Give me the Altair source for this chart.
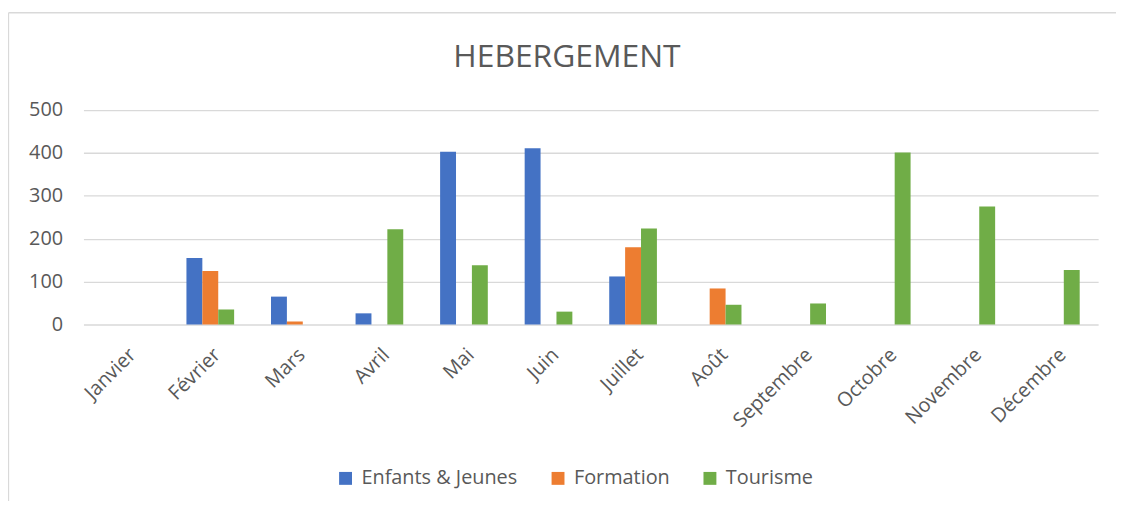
import altair as alt
import pandas as pd

months = ["Janvier", "Février", "Mars", "Avril", "Mai", "Juin", "Juillet",
          "Août", "Septembre", "Octobre", "Novembre", "Décembre"]
series = ["Enfants & Jeunes", "Formation", "Tourisme"]
enfants = [0, 155, 65, 26, 403, 411, 112, 0, 0, 0, 0, 0]
formation = [0, 125, 7, 0, 0, 0, 180, 84, 0, 0, 0, 0]
tourisme = [0, 35, 0, 222, 138, 30, 224, 46, 49, 401, 275, 127]
colors = ["#4472C4", "#ED7D31", "#70AD47"]
y_ticks = [0, 100, 200, 300, 400, 500]
title_text = "HEBERGEMENT"

rows = []
for s, vals in zip(series, [enfants, formation, tourisme]):
    for m, v in zip(months, vals):
        rows.append({"Mois": m, "Série": s, "Valeur": v})
df = pd.DataFrame(rows)

W, H = 1022, 216
PL, PT = 76, 101
FONT = "Open Sans"
GREY = "#595959"
LINE = "#d9d9d9"

bars = alt.Chart(df).mark_bar().encode(
    x=alt.X("Mois:N", sort=months,
            scale=alt.Scale(paddingInner=0.436, paddingOuter=0.218),
            axis=alt.Axis(title=None, labelAngle=-45, labelFontSize=20,
                          labelColor=GREY, labelFont=FONT, ticks=False,
                          domain=False, labelPadding=20, grid=False)),
    xOffset=alt.XOffset("Série:N", sort=series,
                        scale=alt.Scale(paddingInner=0, paddingOuter=0)),
    y=alt.Y("Valeur:Q", scale=alt.Scale(domain=[0, 500], nice=False),
            axis=alt.Axis(title=None, values=y_ticks, labelFontSize=20,
                          labelColor=GREY, labelFont=FONT, ticks=False,
                          domain=False, labelPadding=21, grid=True,
                          gridColor=LINE, gridWidth=1.3)),
    color=alt.Color("Série:N", sort=series,
                    scale=alt.Scale(domain=series, range=colors),
                    legend=alt.Legend(title=None, orient="none",
                                      direction="horizontal",
                                      legendX=254, legendY=361,
                                      symbolType="square", symbolSize=169,
                                      symbolStrokeWidth=0,
                                      labelFontSize=20, labelFont=FONT,
                                      labelColor=GREY, labelOffset=6,
                                      columnPadding=30)),
)

one = pd.DataFrame({"t": [title_text]})
left_border = alt.Chart(one).mark_rule(color=LINE, strokeWidth=1.3).encode(
    x=alt.value(-PL + 0.5), y=alt.value(-PT + 3), y2=alt.value(509 - 8 - PT)
)
top_border = alt.Chart(one).mark_rule(color=LINE, strokeWidth=1.3).encode(
    x=alt.value(-PL + 0.5), x2=alt.value(1124 - 8 - PL), y=alt.value(-PT + 3)
)
title = alt.Chart(one).mark_text(font=FONT, fontSize=32, color=GREY,
                                 align="center", baseline="alphabetic").encode(
    text="t:N", x=alt.value(571 - 84), y=alt.value(66 - 109)
)

chart = alt.layer(left_border, top_border, title, bars).properties(
    width=W, height=H,
    autosize=alt.AutoSizeParams(type="none"),
    padding={"left": PL, "top": PT, "right": 18, "bottom": 176},
    background="white",
).configure_view(stroke=None)

chart.save("out.html", embed_options={"renderer": "svg", "actions": False})
